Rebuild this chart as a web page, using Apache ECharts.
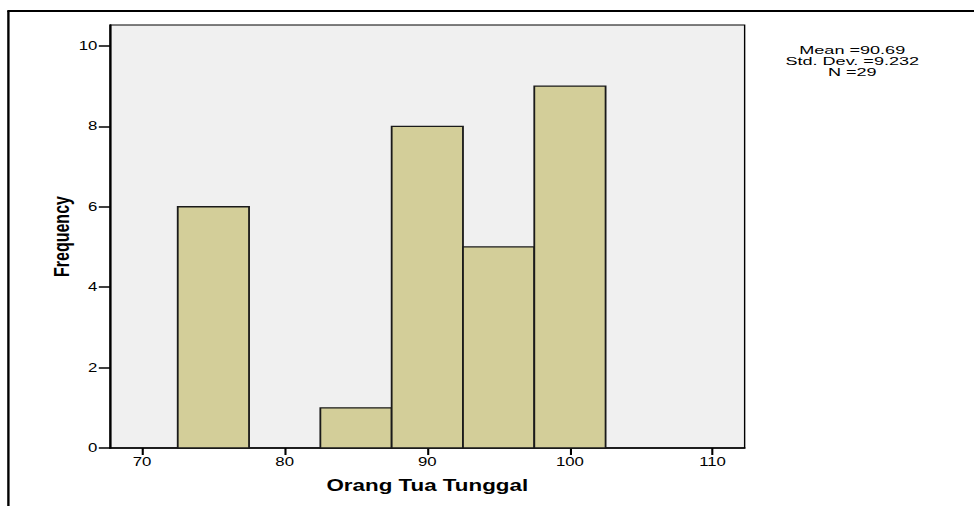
<!DOCTYPE html>
<html>
<head>
<meta charset="utf-8">
<script src="https://cdn.jsdelivr.net/npm/echarts@6/dist/echarts.min.js"></script>
<style>
html,body{margin:0;padding:0;background:#fff;overflow:hidden;}
#wrap{width:974px;height:506px;overflow:hidden;}
#chart{width:696px;height:506px;transform:scaleX(1.39943);transform-origin:0 0;}
</style>
</head>
<body>
<div id="wrap"><div id="chart"></div></div>
<script>
// Histogram data
const binStarts = [72.5, 82.5, 87.5, 92.5, 97.5];
const binEnds   = [77.5, 87.5, 92.5, 97.5, 102.5];
const counts    = [6, 1, 8, 5, 9];
const xTicks = [70, 80, 90, 100, 110];
const yTicks = [0, 2, 4, 6, 8, 10];
const statsLines = ['Mean =90.69', 'Std. Dev. =9.232', 'N =29'];
const xTitle = 'Orang Tua Tunggal';
const yTitle = 'Frequency';

const FONT = '"Liberation Sans", Arial, Helvetica, sans-serif';
const chart = echarts.init(document.getElementById('chart'), null, {renderer: 'svg'});
const data = binStarts.map((s, i) => [s, binEnds[i], counts[i]]);

chart.setOption({
  animation: false,
  backgroundColor: '#ffffff',
  grid: {
    left: 78.6, right: 163.9, top: 25, bottom: 58,
    show: true, backgroundColor: '#f0f0f0', borderColor: '#000', borderWidth: 1
  },
  xAxis: {
    type: 'value', min: 67.75, max: 112.25,
    name: xTitle, nameLocation: 'middle', nameGap: 29, nameMoveOverlap: false,
    nameTextStyle: {fontFamily: FONT, fontWeight: 'bold', fontSize: 16, color: '#000'},
    axisLine: {show: true, lineStyle: {color: '#000', width: 1.5}},
    axisTick: {show: true, length: 7, customValues: xTicks, lineStyle: {color: '#000', width: 1.5}},
    axisLabel: {customValues: xTicks, margin: 8, fontFamily: FONT, fontSize: 12, color: '#000'},
    splitLine: {show: false}
  },
  yAxis: {
    type: 'value', min: 0, max: 10.52,
    name: yTitle, nameLocation: 'middle', nameGap: 27, nameRotate: 90, nameMoveOverlap: false,
    nameTextStyle: {fontFamily: FONT, fontWeight: 'bold', fontSize: 16, color: '#000'},
    axisLine: {show: true, lineStyle: {color: '#000', width: 1.5}},
    axisTick: {show: true, length: 8, customValues: yTicks, lineStyle: {color: '#000', width: 1.5}},
    axisLabel: {customValues: yTicks, margin: 9, fontFamily: FONT, fontSize: 12, color: '#000'},
    splitLine: {show: false}
  },
  series: [{
    type: 'custom',
    data: data,
    encode: {x: [0, 1], y: 2},
    renderItem: function (params, api) {
      const p0 = api.coord([api.value(0), api.value(2)]);
      const p1 = api.coord([api.value(1), 0]);
      return {
        type: 'rect',
        shape: {x: p0[0], y: p0[1], width: p1[0] - p0[0], height: p1[1] - p0[1]},
        style: {fill: '#d3ce99', stroke: '#1a1a1a', lineWidth: 1.3}
      };
    }
  }],
  graphic: [
    {type: 'line', shape: {x1: 6, y1: 11, x2: 6, y2: 506}, style: {stroke: '#000', lineWidth: 1.7}},
    {type: 'line', shape: {x1: 5.2, y1: 11, x2: 700, y2: 11}, style: {stroke: '#000', lineWidth: 2}},
    {type: 'text', x: 609, y: 61.5, scaleX: 1.23,
     style: {text: statsLines.join('\n'), fontFamily: FONT, fontSize: 10.5, lineHeight: 11,
             fill: '#000', align: 'center', verticalAlign: 'middle'}}
  ]
});
</script>
</body>
</html>
